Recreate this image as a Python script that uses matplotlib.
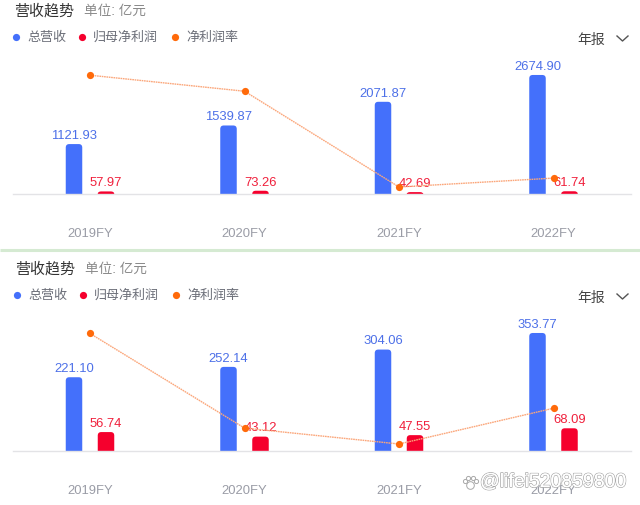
import matplotlib
matplotlib.use('Agg')
import matplotlib.pyplot as plt
import matplotlib.patheffects as pe
from matplotlib.patches import PathPatch
from matplotlib.path import Path

plt.rcParams['font.family'] = ['Liberation Sans', 'Noto Sans CJK SC', 'DejaVu Sans']

W, H = 640, 506
BLUE = '#4470fb'
RED = '#f5002d'
ORANGE = '#ff6a0a'

years = ['2019FY', '2020FY', '2021FY', '2022FY']
legend_names = ['总营收', '归母净利润', '净利润率']
legend_colors = [BLUE, RED, ORANGE]

revenue_top = [1121.93, 1539.87, 2071.87, 2674.90]
profit_top = [57.97, 73.26, 42.69, 61.74]
margin_top = [5.2, 4.75, 2.06, 2.31]

revenue_bottom = [221.10, 252.14, 304.06, 353.77]
profit_bottom = [56.74, 43.12, 47.55, 68.09]
margin_bottom = [25.7, 17.1, 15.65, 18.9]


def px_axes(top, bottom):
    # 按像素位置放一个子图, 左右固定
    return fig.add_axes([12.75 / W, 1 - bottom / H, 618 / W, (bottom - top) / H])


def rounded_bar(ax, x, width, h, per_px, color):
    # 圆角柱, 半径约 3.5 像素
    r_x = 3.5 * (4 / 618)
    r_y = min(3.5 * per_px, h)
    l, r = x - width / 2, x + width / 2
    verts = [(l, 0), (l, h - r_y), (l, h), (l + r_x, h), (r - r_x, h), (r, h), (r, h - r_y), (r, 0), (l, 0)]
    codes = [Path.MOVETO, Path.LINETO, Path.CURVE3, Path.CURVE3, Path.LINETO,
             Path.CURVE3, Path.CURVE3, Path.LINETO, Path.CLOSEPOLY]
    ax.add_patch(PathPatch(Path(verts, codes), facecolor=color, edgecolor='none', zorder=2))


def draw_panel(top, baseline, px_rev, revenue, profit, margin, m_ref, m_ref_y, px_m):
    ax = px_axes(top, baseline)
    ax.set_xlim(-0.5, 3.5)
    ax.set_ylim(0, (baseline - top) / px_rev)
    xs = range(len(years))
    bar_w = 16.5 * 4 / 618
    off = 16 * 4 / 618
    for i in xs:
        rounded_bar(ax, i - off, bar_w, revenue[i], 1 / px_rev, BLUE)
        rounded_bar(ax, i + off, bar_w, profit[i], 1 / px_rev, RED)
        ax.annotate(f'{revenue[i]:.2f}', (i - off, revenue[i]), xytext=(0, 6.6),
                    textcoords='offset points', ha='center', va='center',
                    fontsize=9.4, color='#4d70e8', zorder=5)
        ax.annotate(f'{profit[i]:.2f}', (i + off, profit[i]), xytext=(0, 6.6),
                    textcoords='offset points', ha='center', va='center',
                    fontsize=9.4, color='#f0203c', zorder=5)
    ax.set_xticks(list(xs))
    ax.set_xticklabels(years, fontsize=9.4, color='#9a9ca6')
    ax.tick_params(axis='x', length=0, pad=24)
    ax.set_yticks([])
    for s in ['top', 'left', 'right']:
        ax.spines[s].set_visible(False)
    ax.spines['bottom'].set_color('#e3e3e6')
    ax.spines['bottom'].set_linewidth(1)

    # 净利润率用右轴
    ax2 = ax.twinx()
    ax2.set_ylim(m_ref + (m_ref_y - baseline) / px_m, m_ref + (m_ref_y - top) / px_m)
    ax2.plot(list(xs), margin, color='#fba67a', lw=1, ls=(0, (1.2, 0.5)),
             marker='o', ms=5.2, mfc=ORANGE, mec=ORANGE, mew=0)
    ax2.set_yticks([])
    ax2.axis('off')
    return ax


def header(ov, title_y, legend_y, dx):
    ov.text(14 + dx, title_y, '营收趋势', fontsize=10.8, color='#333333', va='center')
    ov.text(84 + dx, title_y, '单位: 亿元', fontsize=9.8, color='#8a8a8a', va='center')
    for name, color, cx in zip(legend_names, legend_colors, [16, 82, 175]):
        ov.plot(cx + dx, legend_y, 'o', ms=5.2, color=color, mew=0)
        ov.text(cx + dx + 11, legend_y, name, fontsize=9.4, color='#6b6e78', va='center')
    ov.text(577, legend_y + 1.5, '年报', fontsize=10, color='#444444', va='center')
    ov.plot([617, 622.5, 628], [legend_y - 1, legend_y + 4, legend_y - 1], color='#555555', lw=1)


fig = plt.figure(figsize=(W / 100, H / 100), dpi=100)

draw_panel(60, 195, 0.0445, revenue_top, profit_top, margin_top, 2.06, 188, 35.6)
draw_panel(318, 452, 0.3336, revenue_bottom, profit_bottom, margin_bottom, 15.65, 445, 11.0)

# 覆盖层: 标题 图例 分隔线 水印, 坐标就是像素
ov = fig.add_axes([0, 0, 1, 1], zorder=10)
ov.set_xlim(0, W)
ov.set_ylim(H, 0)
ov.axis('off')

header(ov, 11, 38, 0)
header(ov, 269, 296, 1)
ov.plot([0, W], [251, 251], color='#d5ead2', lw=2.2, solid_capstyle='butt')

outline = [pe.withStroke(linewidth=1.1, foreground='#a8a8a8'), pe.Normal()]
ov.text(480, 483.5, '@lifei520859800', fontsize=14, color='white', va='center',
        path_effects=outline)
for cx, cy, s in [(470, 486, 5.5), (464.5, 482, 3), (468, 478.5, 3), (473, 478.5, 3), (476, 482, 3)]:
    ov.plot(cx, cy, 'o', ms=s, mfc='white', mec='#a8a8a8', mew=0.7)

fig.savefig('out.png', dpi=100)
